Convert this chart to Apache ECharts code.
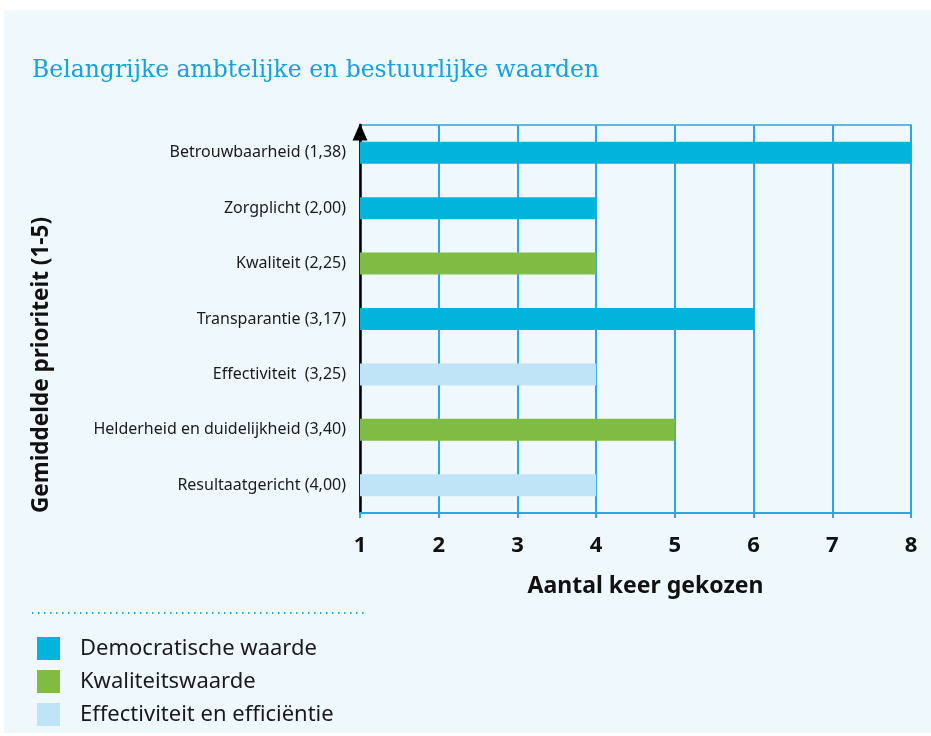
<!DOCTYPE html>
<html>
<head>
<meta charset="utf-8">
<script src="https://cdn.jsdelivr.net/npm/echarts@6/dist/echarts.min.js"></script>
<style>
html,body{margin:0;padding:0;background:#ffffff;}
#chart{width:931px;height:736px;}
</style>
</head>
<body>
<div id="chart"></div>
<script>
// Categories, top to bottom as shown
var categories = ['Betrouwbaarheid (1,38)', 'Zorgplicht (2,00)', 'Kwaliteit (2,25)', 'Transparantie (3,17)', 'Effectiviteit  (3,25)', 'Helderheid en duidelijkheid (3,40)', 'Resultaatgericht (4,00)'];
var democratischeWaarde = [8, 4, null, 6, null, null, null];
var kwaliteitsWaarde = [null, null, 4, null, null, 5, null];
var effectiviteitEfficientie = [null, null, null, null, 4, null, 4];
var seriesNames = ['Democratische waarde', 'Kwaliteitswaarde', 'Effectiviteit en efficiëntie'];
var xTicks = [1, 2, 3, 4, 5, 6, 7, 8];

var colors = ['#00b4dc', '#80bc44', '#bfe4f8'];
var gridBlue = '#2aa6e0';

function rev(a) { return a.slice().reverse(); }

var chart = echarts.init(document.getElementById('chart'), null, {renderer: 'canvas'});
var option = {
  backgroundColor: '#ffffff',
  animation: false,
  graphic: [
    {type: 'rect', z: -10, shape: {x: 4, y: 10, width: 927, height: 723}, style: {fill: '#eff8fc'}},
    {type: 'text', left: 32, top: 59, style: {text: 'Belangrijke ambtelijke en bestuurlijke waarden', fill: '#17a1dd', font: '23.5px "DejaVu Serif"'}},
    {type: 'text', x: 42, y: 365, rotation: Math.PI / 2, style: {text: 'Gemiddelde prioriteit (1-5)', fill: '#111', font: 'bold 22.5px "Noto Sans"', align: 'center', verticalAlign: 'middle'}},
    {type: 'line', shape: {x1: 32, y1: 613, x2: 365, y2: 613}, style: {stroke: gridBlue, lineWidth: 2, lineDash: [1.5, 4.5]}}
  ],
  legend: {
    orient: 'vertical',
    left: 32,
    top: 632,
    itemWidth: 23,
    itemHeight: 23,
    itemGap: 10,
    icon: 'rect',
    data: seriesNames,
    textStyle: {fontFamily: 'Noto Sans', fontSize: 22, color: '#1a1a1a', padding: [0, 0, 0, 15]},
    selectedMode: false
  },
  grid: {
    left: 360, right: 20, top: 125, bottom: 223,
    show: true, borderColor: gridBlue, borderWidth: 1.5, backgroundColor: 'transparent'
  },
  xAxis: {
    type: 'value',
    min: xTicks[0],
    max: xTicks[xTicks.length - 1],
    interval: 1,
    name: 'Aantal keer gekozen',
    nameLocation: 'middle',
    nameGap: 62,
    nameTextStyle: {fontFamily: 'Noto Sans', fontSize: 23, fontWeight: 'bold', color: '#111', padding: [0, 0, 0, 20]},
    axisLine: {show: true, lineStyle: {color: gridBlue, width: 2}},
    axisTick: {show: true, length: 5, lineStyle: {color: gridBlue, width: 2}},
    axisLabel: {margin: 22, fontFamily: 'Noto Sans', fontSize: 22, fontWeight: 'bold', color: '#111'},
    splitLine: {show: true, lineStyle: {color: gridBlue, width: 2}}
  },
  yAxis: {
    type: 'category',
    data: rev(categories),
    axisLine: {show: true, symbol: ['none', 'triangle'], symbolSize: [15, 17], symbolOffset: [0, -7], lineStyle: {color: '#000', width: 2.5}},
    axisTick: {show: false},
    axisLabel: {margin: 14, fontFamily: 'Noto Sans', fontSize: 16, color: '#1a1a1a'},
    splitLine: {show: false}
  },
  series: [
    {name: seriesNames[0], type: 'bar', data: rev(democratischeWaarde), barWidth: 22, barGap: '-100%', itemStyle: {color: colors[0]}},
    {name: seriesNames[1], type: 'bar', data: rev(kwaliteitsWaarde), barWidth: 22, barGap: '-100%', itemStyle: {color: colors[1]}},
    {name: seriesNames[2], type: 'bar', data: rev(effectiviteitEfficientie), barWidth: 22, barGap: '-100%', itemStyle: {color: colors[2]}}
  ]
};
chart.setOption(option);
</script>
</body>
</html>
